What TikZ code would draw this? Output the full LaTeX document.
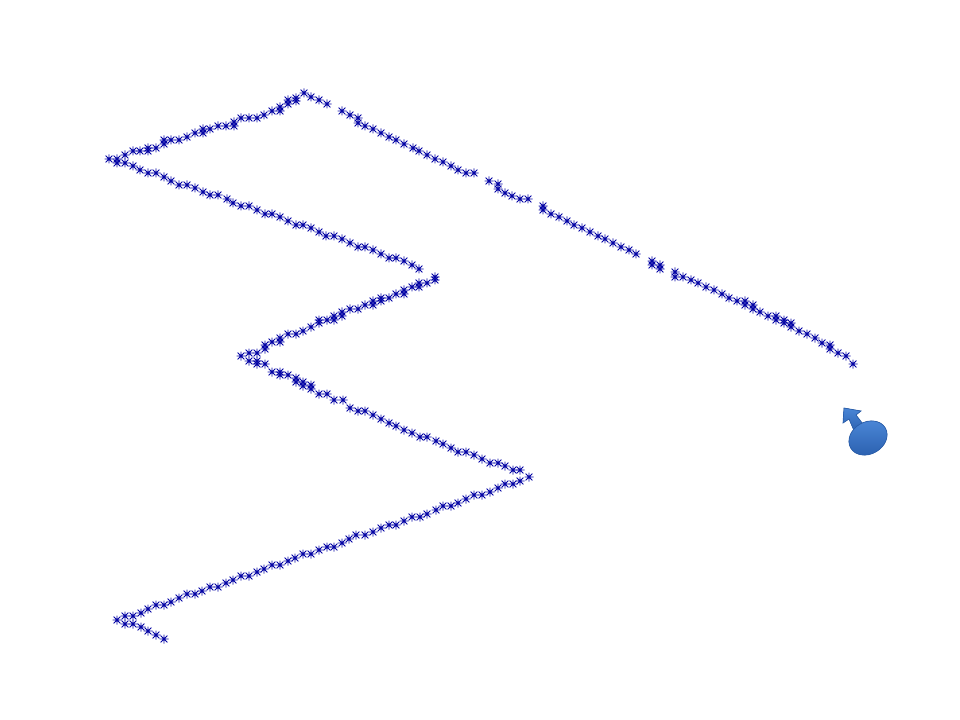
\documentclass[tikz,border=0pt]{standalone}
\definecolor{trackblue}{HTML}{0505A5}
\definecolor{pinlight}{HTML}{4A86D6}
\definecolor{pindark}{HTML}{2A5FAE}
\tikzset{
  trackmark/.pic={
    \draw[trackblue,line width=0.72pt]
      (-4.5,0) -- (4.5,0)
      (0,-4.5) -- (0,4.5)
      (-3.4,-3.4) -- (3.4,3.4)
      (-3.4,3.4) -- (3.4,-3.4);
    \fill[trackblue] (0,0) circle [radius=1.5];
  },
  pinbody/.style={draw=pindark,line width=0.5pt,top color=pinlight,bottom color=pindark}
}
\begin{document}
\begin{tikzpicture}[x=0.75pt,y=-0.75pt]
      \useasboundingbox (0,0) rectangle (960,720);
      % top run, right end to the peak
      \foreach \px/\py in {853/364,846/356,838/353,830/349,830/345,822/343,815/338,807/334,799/331,
        791/327,791/323,784/323,784/320,776/320,776/316,768/316,760/312,753/309,753/305,745/305,
        745/301,737/301,729/298,722/294,714/290,706/287,698/283,691/280,683/277,675/277,675/272,
        660/269,660/265,652/265,652/261,636/254,629/250,621/247,613/243,605/239,598/236,590/232,
        582/228,574/225,567/221,559/217,551/214,543/210,543/206,528/199,520/199,512/196,505/193,
        498/189,498/184,489/181,474/173,466/173,458/170,451/166,443/162,435/159,427/155,419/151,
        413/148,404/144,396/140,389/137,381/133,373/129,365/126,358/123,358/118,350/115,342/111,
        327/104,319/100,311/97,304/93}
        \pic at (\px,\py) {trackmark};
      % peak to the left tip
      \foreach \px/\py in {296/101,296/98,288/104,288/100,280/111,280/107,272/111,264/115,257/118,
        249/118,241/118,234/126,234/122,226/126,218/126,210/129,203/133,203/129,195/133,187/137,
        179/140,171/140,164/144,164/140,156/148,148/151,148/148,140/151,133/151,125/155,125/163,
        117/163,117/159,109/159}
        \pic at (\px,\py) {trackmark};
      % left tip to the first bend
      \foreach \px/\py in {133/166,140/170,148/173,156/173,164/177,171/181,179/185,187/185,195/188,
        203/192,210/195,218/195,227/199,233/203,241/206,249/206,257/210,265/214,272/214,280/217,
        288/221,296/225,303/225,311/228,319/232,326/236,334/236,342/239,350/243,358/247,365/247,
        373/250,381/254,389/258,396/258,404/261,412/265,419/269}
        \pic at (\px,\py) {trackmark};
      % first bend back to the middle tip
      \foreach \px/\py in {435/277,435/280,427/283,419/283,419/287,412/287,404/290,404/294,396/294,
        389/298,381/298,381/301,373/301,373/305,365/305,358/309,350/309,342/312,342/316,334/316,
        334/320,327/320,319/320,319/323,311/327,303/331,296/334,288/334,280/338,280/342,272/342,
        265/345,265/349,257/353,249/353,241/356,249/361,257/361,257/364,265/364}
        \pic at (\px,\py) {trackmark};
      % middle tip to the second bend
      \foreach \px/\py in {272/372,280/372,280/375,288/375,296/378,296/382,303/382,303/386,311/385,
        311/389,319/394,327/394,334/400,343/400,350/408,358/411,365/411,373/415,381/419,389/423,
        396/426,404/430,412/433,420/437,427/437,436/441,443/444,451/448,458/452,466/452,474/455,
        482/459,490/463,498/463,505/466,513/470,520/470}
        \pic at (\px,\py) {trackmark};
      % second bend to the bottom left
      \foreach \px/\py in {529/477,520/481,513/484,505/484,498/488,490/492,482/495,474/495,466/499,
        458/503,451/506,443/506,436/510,427/514,420/517,412/517,404/521,396/525,389/525,381/528,
        373/532,365/535,356/535,349/539,342/543,334/547,327/547,319/550,311/554,303/554,295/558,
        288/561,280/565,272/565,264/569,257/572,249/576,241/576,233/580,226/583,218/587,210/587,
        202/591,195/594,187/594,179/598,171/602,164/605,156/605,148/609,141/613,133/616,125/616,
        117/620,125/624,133/624,141/627,148/631,156/635,164/639}
        \pic at (\px,\py) {trackmark};
      % the pin
      \fill[pinbody] (844,408) -- (861,411) -- (856,415) -- (866,428) -- (855,433) -- (849,419)
        -- (843,423) -- cycle;
      \fill[pinbody] (868,438) ellipse [x radius=20,y radius=16,rotate=30];
    \end{tikzpicture}
\end{document}
